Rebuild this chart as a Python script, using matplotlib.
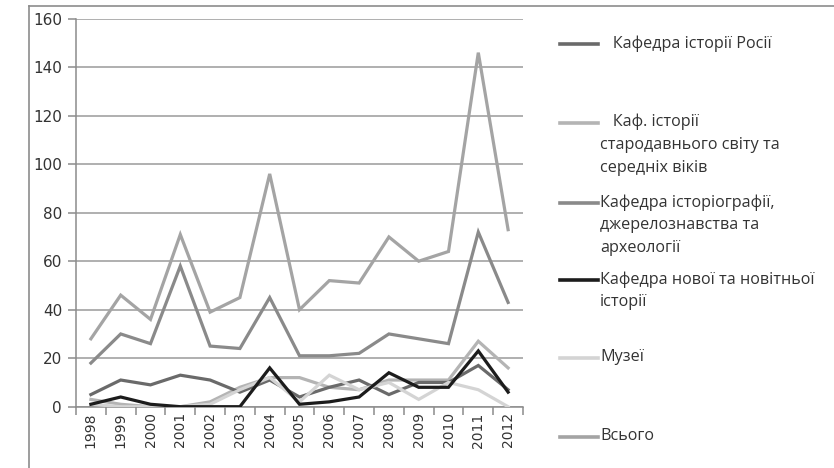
import matplotlib
matplotlib.use("Agg")
import matplotlib.pyplot as plt
from matplotlib.lines import Line2D

years = ["1998", "1999", "2000", "2001", "2002", "2003", "2004", "2005",
         "2006", "2007", "2008", "2009", "2010", "2011", "2012"]

russia = [5, 11, 9, 13, 11, 6, 11, 4, 8, 11, 5, 10, 10, 17, 7]
ancient = [3, 1, 0, 0, 2, 8, 12, 12, 8, 7, 11, 11, 11, 27, 16]
historiography = [18, 30, 26, 58, 25, 24, 45, 21, 21, 22, 30, 28, 26, 72, 43]
modern = [1, 4, 1, 0, 0, 0, 16, 1, 2, 4, 14, 8, 8, 23, 6]
museum = [1, 0, 0, 0, 1, 7, 12, 2, 13, 7, 10, 3, 10, 7, 0]
total = [28, 46, 36, 71, 39, 45, 96, 40, 52, 51, 70, 60, 64, 146, 73]

series = [russia, ancient, historiography, modern, museum, total]
labels = ["   Кафедра історії Росії",
          "   Каф. історії\nстародавнього світу та\nсередніх віків",
          "Кафедра історіографії,\nджерелознавства та\nархеології",
          "Кафедра нової та новітньої\nісторії",
          "Музеї",
          "Всього"]
colors = ["#6a6a6a", "#b4b4b4", "#8a8a8a", "#1c1c1c", "#d4d4d4", "#a4a4a4"]
# draw order: total first (behind), then others
draw_order = [5, 2, 1, 0, 4, 3]

W, H = 834, 468
fig = plt.figure(figsize=(W / 100, H / 100), dpi=100)
ax = fig.add_axes([76 / W, 1 - 406.7 / H, (523 - 76) / W, (406.7 - 18.7) / H])

x = list(range(len(years)))
for i in draw_order:
    ax.plot(x, series[i], color=colors[i], lw=2.3, solid_joinstyle="miter", zorder=3)

ax.set_xlim(-0.5, len(years) - 0.5)
ax.set_ylim(0, 160)
ax.set_yticks(range(0, 161, 20))
ax.yaxis.grid(True, color="#9a9a9a", lw=1.1)
ax.set_axisbelow(True)
for s in ["top", "right"]:
    ax.spines[s].set_visible(False)
for s in ["left", "bottom"]:
    ax.spines[s].set_color("#8c8c8c")
    ax.spines[s].set_linewidth(1.1)

ax.set_xticks([i - 0.5 for i in range(len(years) + 1)])
ax.set_xticklabels([])
ax.set_xticks(x, minor=True)
ax.set_xticklabels(years, minor=True, rotation=90, fontsize=10, color="#333333",
                   family="DejaVu Sans")
ax.tick_params(axis="x", which="major", length=6, color="#8c8c8c", width=1.1)
ax.tick_params(axis="x", which="minor", length=0, pad=4)
ax.tick_params(axis="y", length=6, color="#8c8c8c", width=1.1, labelsize=11,
               labelcolor="#333333", pad=4)

# outer chart frame (left and top edges)
fig.add_artist(Line2D([29 / W, 29 / W], [0, 1 - 6 / H], color="#8c8c8c", lw=1.2,
                      transform=fig.transFigure))
fig.add_artist(Line2D([29 / W, 1], [1 - 6 / H, 1 - 6 / H], color="#8c8c8c", lw=1.2,
                      transform=fig.transFigure))

# legend
legend_y = [44, 123, 203, 280, 358, 437]
for i in range(len(series)):
    y = 1 - legend_y[i] / H
    fig.add_artist(Line2D([560 / W, 598 / W], [y, y], color=colors[i], lw=2.6,
                          transform=fig.transFigure))
    fig.text(600 / W, 1 - (legend_y[i] - 9) / H, labels[i], fontsize=11.6,
             family="Open Sans", color="#333333", va="top", ha="left",
             linespacing=1.58)

fig.savefig("out.png", dpi=100)
